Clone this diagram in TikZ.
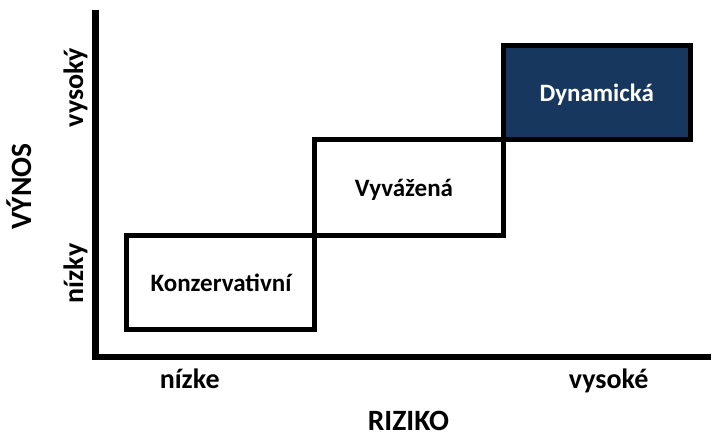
\documentclass[tikz,border=0pt]{standalone}
\usepackage{fontspec}
\setmainfont{Carlito}
\definecolor{dynblue}{HTML}{17375E}

\begin{document}
\begin{tikzpicture}[x=1pt, y=-1pt,
	boxlbl/.style={font=\bfseries\fontsize{25}{29}\selectfont, anchor=base, inner sep=0pt},
	axlbl/.style={font=\bfseries\fontsize{28}{32}\selectfont, anchor=base, inner sep=0pt},
	axtitle/.style={font=\bfseries\fontsize{29.5}{34}\selectfont, anchor=base, inner sep=0pt}]
			
			\useasboundingbox (0,0) rectangle (712,434);
			
			% axes
			\draw[line width=6.8pt, line join=miter] (95.5,10) -- (95.5,357) -- (711,357);
			
			% the three profiles, stepping up
			\draw[line width=5pt] (126.5,235.5) rectangle (314.5,329.5);
			\draw[line width=5pt] (314.5,139.5) rectangle (503,235.5);
			\draw[line width=5pt, fill=dynblue] (503,45) rectangle (690,139.5);
			
			% profile names
			\node[boxlbl] (kons) at (221,291.5) {Konzervativní};
			\node[boxlbl] (vyv) at (404,196.7) {Vyvážená};
			\node[boxlbl, text=white] (dyn) at (596.7,101) {Dynamická};
			
			% risk axis
			\node[axlbl] (rlow) at (189.7,388.3) {nízke};
			\node[axlbl] (rhigh) at (608.7,388.3) {vysoké};
			\node[axtitle] (riziko) at (408.5,430) {RIZIKO};
			
			% return axis
			\node[axtitle, rotate=90] (vynos) at (31.7,186.7) {VÝNOS};
			\node[axlbl, rotate=90] (vhigh) at (83,87.5) {vysoký};
			\node[axlbl, rotate=90] (vlow) at (83,273.5) {nízky};
			
		\end{tikzpicture}
\end{document}
